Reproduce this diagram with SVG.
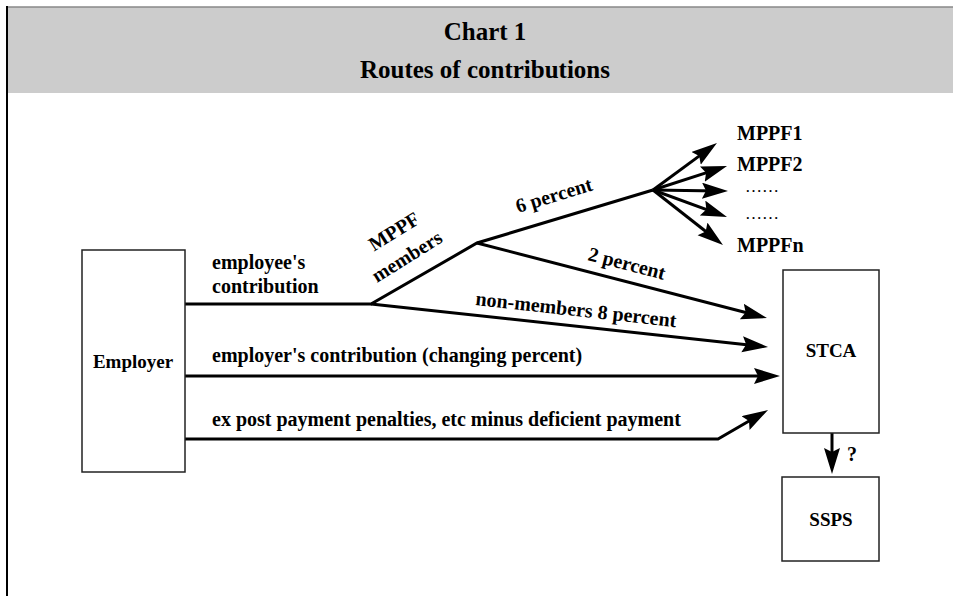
<svg xmlns="http://www.w3.org/2000/svg" width="953" height="596" viewBox="0 0 953 596">
<style>
  text { font-family: "Liberation Serif", "Times New Roman", serif; font-weight: bold; fill: #000; }
  .title { font-size: 25px; text-anchor: middle; }
  .lbl { font-size: 20px; }
  .box { fill: #fff; stroke: #222; stroke-width: 1.5; }
  .node { font-size: 19px; text-anchor: middle; }
  .ln { fill: none; stroke: #000; stroke-width: 3; stroke-linejoin: miter; }
  .arr { fill: none; stroke: #000; stroke-width: 3; marker-end: url(#ah); }
  .dots { font-size: 17px; font-weight: normal; }
</style>
<defs>
  <marker id="ah" markerUnits="userSpaceOnUse" markerWidth="28" markerHeight="18" refX="16" refY="8" orient="auto">
    <path d="M0,0 L26,8 L0,16 L4,8 z" fill="#000"/>
  </marker>
</defs>
<rect width="953" height="596" fill="#fff"/>
<g id="header">
  <rect x="8" y="7" width="945" height="86" fill="#cccccc"/>
  <line x1="7" y1="7" x2="953" y2="7" stroke="#888" stroke-width="1.5"/>
  <line x1="7" y1="6" x2="7" y2="596" stroke="#000" stroke-width="2"/>
  <text class="title" x="485" y="40">Chart 1</text>
  <text class="title" x="485" y="78">Routes of contributions</text>
</g>
<g id="connectors">
  <polyline class="ln" points="185,304 371,304 477,243 653,190"/>
  <line class="arr" x1="653" y1="190" x2="708.9" y2="148.9"/>
  <line class="arr" x1="653" y1="190" x2="717.5" y2="169.1"/>
  <line class="arr" x1="653" y1="190" x2="718" y2="190.9"/>
  <line class="arr" x1="653" y1="190" x2="717.6" y2="213.6"/>
  <line class="arr" x1="653" y1="190" x2="715.1" y2="238.8"/>
  <line class="arr" x1="477" y1="243" x2="757.3" y2="315.5"/>
  <line class="arr" x1="371" y1="304" x2="758.1" y2="345.9"/>
  <line class="arr" x1="185" y1="376" x2="770" y2="376"/>
  <polyline class="arr" points="185,439 718,439 759.4,415"/>
  <line class="arr" x1="832" y1="433" x2="832" y2="464"/>
  <text class="lbl" x="212" y="269">employee's</text>
  <text class="lbl" x="212" y="293">contribution</text>
  <g transform="translate(377,283) rotate(-32)">
    <text class="lbl" x="14" y="-28">MPPF</text>
    <text class="lbl" x="0" y="0">members</text>
  </g>
  <text class="lbl" transform="translate(518,213) rotate(-16.8)">6 percent</text>
  <text class="lbl" transform="translate(587,260) rotate(14.5)">2 percent</text>
  <text class="lbl" transform="translate(475,305) rotate(6.3)">non-members 8 percent</text>
  <text class="lbl" x="212" y="362">employer's contribution (changing percent)</text>
  <text class="lbl" x="212" y="426">ex post payment penalties, etc minus deficient payment</text>
  <text x="847" y="461" style="font-size:20px">?</text>
</g>
<g id="employer">
  <rect class="box" x="82" y="250" width="103" height="222"/>
  <text class="node" x="133" y="368">Employer</text>
</g>
<g id="stca">
  <rect class="box" x="783" y="270" width="96" height="163"/>
  <text class="node" x="831" y="357">STCA</text>
</g>
<g id="ssps">
  <rect class="box" x="782" y="477" width="97" height="84"/>
  <text class="node" x="831" y="526">SSPS</text>
</g>
<g id="mppf1"><text class="lbl" x="737" y="140">MPPF1</text></g>
<g id="mppf2"><text class="lbl" x="737" y="171">MPPF2</text></g>
<g id="dots1"><text class="dots" x="745" y="192">……</text></g>
<g id="dots2"><text class="dots" x="745" y="219">……</text></g>
<g id="mppfn"><text class="lbl" x="737" y="252">MPPFn</text></g>
</svg>
